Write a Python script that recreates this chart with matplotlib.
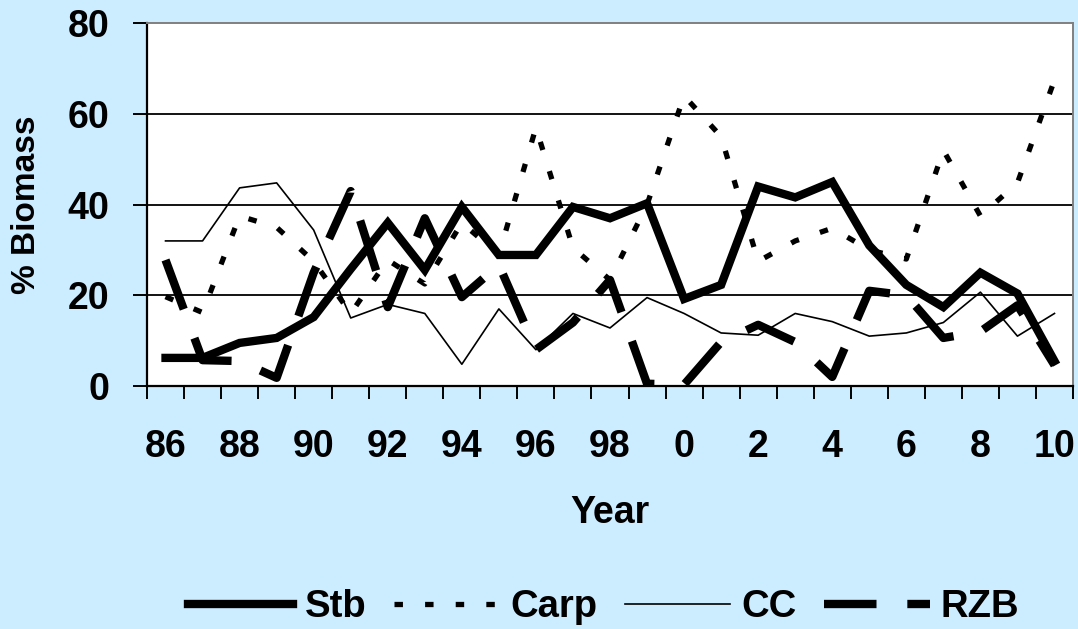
import matplotlib
matplotlib.use("Agg")
import matplotlib.pyplot as plt
import numpy as np

years = list(range(1986, 2011))
tick_years = [1986, 1988, 1990, 1992, 1994, 1996, 1998, 2000, 2002, 2004, 2006, 2008, 2010]
tick_labels = ["86", "88", "90", "92", "94", "96", "98", "0", "2", "4", "6", "8", "10"]

stb  = [6.2, 6.2, 9.5, 10.6, 15.2, 25.8, 36.0, 25.6, 39.5, 28.9, 28.9, 39.5, 37.0, 40.3, 19.2,
        22.3, 44.0, 41.6, 45.0, 31.0, 22.3, 17.4, 25.0, 20.4, 5.5]
carp = [19.7, 16.2, 37.5, 35.0, 27.5, 16.0, 27.8, 22.5, 36.0, 29.0, 57.0, 30.5, 23.4, 40.0, 64.0,
        55.0, 27.5, 32.0, 34.8, 30.0, 28.0, 52.0, 37.5, 44.8, 67.5]
cc   = [32.0, 32.0, 43.7, 44.8, 34.4, 15.0, 18.0, 16.0, 4.8, 17.0, 8.0, 16.0, 12.8, 19.5, 16.0,
        11.7, 11.2, 16.0, 14.2, 11.0, 11.7, 14.0, 20.7, 11.0, 16.0]
rzb  = [27.8, 5.7, 5.5, 1.8, 25.0, 43.0, 17.4, 37.0, 19.6, 26.7, 8.0, 14.0, 23.4, 0.5, 0.3,
        9.7, 13.5, 9.7, 2.0, 21.0, 20.0, 10.6, 12.0, 17.8, 4.6]

BG = "#CCECFF"
FONT = ["Liberation Sans", "DejaVu Sans"]
plt.rcParams['font.family'] = FONT
plt.rcParams['font.weight'] = 'bold'

fig = plt.figure(figsize=(10.78, 6.29), dpi=100, facecolor=BG)
ax = fig.add_axes([147/1078, 1-386/629, (1073-147)/1078, (386-23.3)/629])
ax.set_facecolor("white")

ax.plot(years, cc, color="black", lw=1.2, label="CC", zorder=3)
ax.plot(years, carp, color="black", lw=3.8, dashes=(1.6, 4.2), label="Carp", zorder=4)
ax.plot(years, rzb, color="black", lw=6.0, dashes=(6.3, 3.7), label="RZB", zorder=5)
ax.plot(years, stb, color="black", lw=6.0, label="Stb", zorder=6, solid_joinstyle="miter")

ax.set_xlim(1985.5, 2010.5)
ax.set_ylim(0, 80)
ax.set_yticks([0, 20, 40, 60, 80])
for v in [20, 40, 60]:
    ax.axhline(v, color="black", lw=1.3, zorder=1)

ax.set_xticks(tick_years)
ax.set_xticklabels(tick_labels)
ax.set_xticks(np.arange(1985.5, 2011), minor=True)
ax.tick_params(axis="x", which="major", length=0, pad=31, labelsize=27)
ax.tick_params(axis="x", which="minor", length=9, width=1.4, direction="out")
ax.tick_params(axis="y", length=10, width=1.4, direction="out", pad=17, labelsize=27)

for s in ["top", "right"]:
    ax.spines[s].set_color("#808080")
    ax.spines[s].set_linewidth(1.4)
for s in ["left", "bottom"]:
    ax.spines[s].set_color("black")
    ax.spines[s].set_linewidth(1.6)

fig.text(610/1078, 1-513/629, "Year", ha="center", va="center", fontsize=27, fontweight="bold")
fig.text(27/1078, 1-205/629, "% Biomass", ha="center", va="center", rotation=90,
         fontsize=24, fontweight="bold")

handles, labels = ax.get_legend_handles_labels()
order = [labels.index(n) for n in ["Stb", "Carp", "CC", "RZB"]]
fig.legend([handles[i] for i in order], [labels[i] for i in order],
           loc="center", bbox_to_anchor=(604/1078, 1-607/629), ncol=4, frameon=False,
           fontsize=27.5, handlelength=2.75, handletextpad=0.3, columnspacing=0.72,
           borderpad=0, borderaxespad=0)

fig.savefig("out.png", dpi=100, facecolor=BG)
